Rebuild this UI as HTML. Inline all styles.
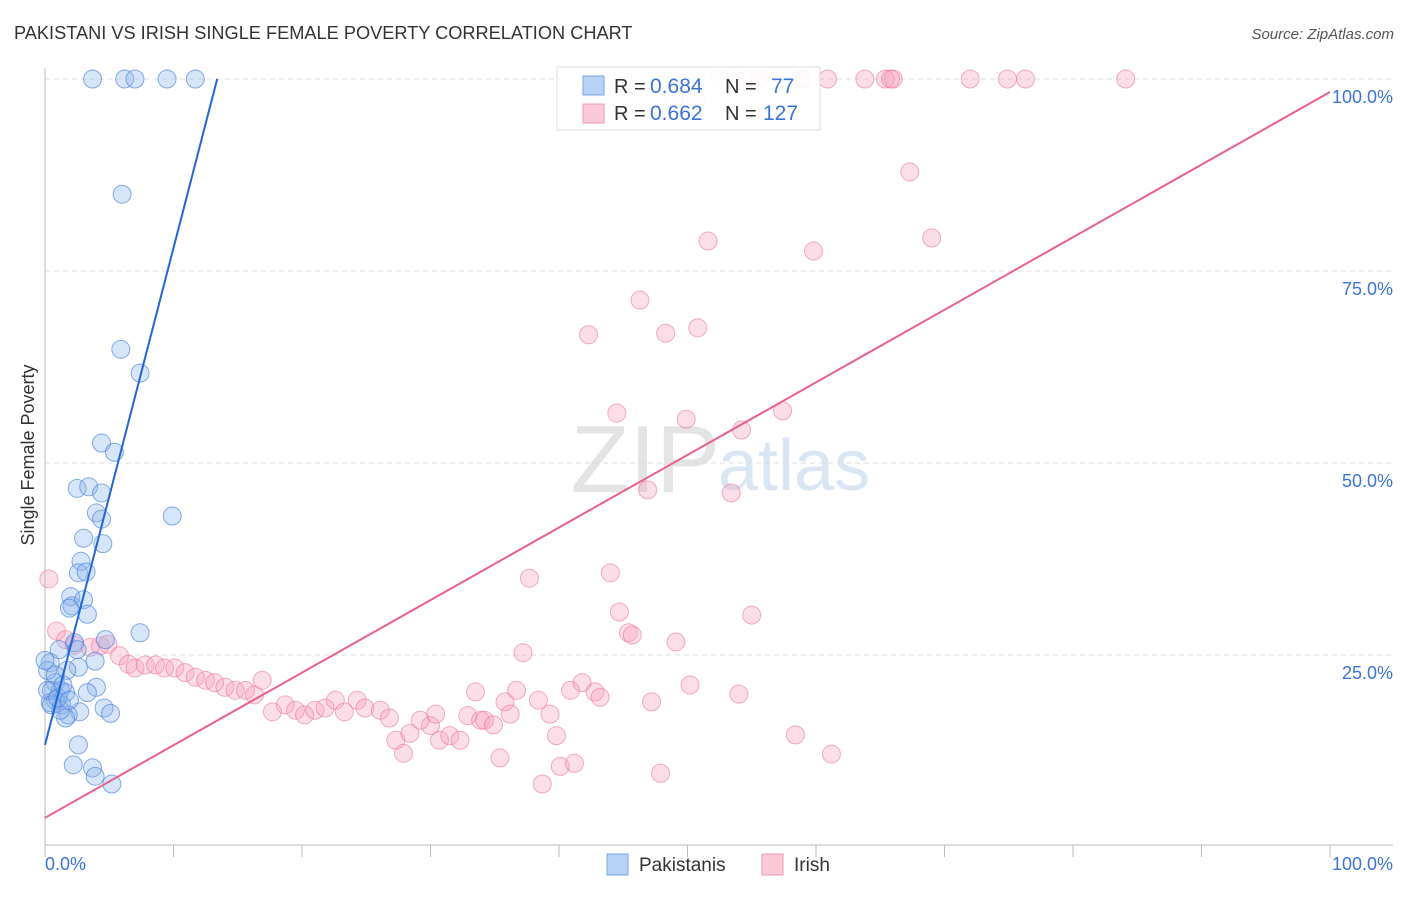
<!DOCTYPE html>
<html><head><meta charset="utf-8"><style>
body{margin:0;background:#fff;font-family:"Liberation Sans",sans-serif;}
svg text{font-family:"Liberation Sans",sans-serif;}
</style></head><body>
<svg width="1406" height="892" id="chart">
<text x="14" y="39" font-size="18.2" fill="#333">PAKISTANI VS IRISH SINGLE FEMALE POVERTY CORRELATION CHART</text>
<text x="1394" y="39" font-size="15" fill="#555" font-style="italic" text-anchor="end">Source: ZipAtlas.com</text>
<text x="720" y="492" font-size="96" fill="#e4e4e4" text-anchor="end" font-family="Liberation Serif">ZIP</text>
<text x="718" y="490" font-size="72" fill="#dbe6f4">atlas</text>
<g id="grid"></g>
<line x1="45" y1="68" x2="45" y2="845" stroke="#bbb"/>
<line x1="45" y1="845" x2="1393" y2="845" stroke="#bbb"/>
<g id="ticks"></g>
<text transform="translate(34,455) rotate(-90)" font-size="18" fill="#333" text-anchor="middle">Single Female Poverty</text>
<text x="45" y="870" font-size="18" fill="#3b74d6">0.0%</text>
<text x="1393" y="870" font-size="18" fill="#3b74d6" text-anchor="end">100.0%</text>
<g id="pts"></g>
<g id="lines"></g>
<g>
<rect x="557" y="67" width="263" height="63" fill="#fff" fill-opacity="0.9" stroke="#ddd"/>
<rect x="583" y="76" width="21" height="19" fill="#b6d2f6" stroke="#7aa6e6"/>
<rect x="583" y="104" width="21" height="19" fill="#fbc9d8" stroke="#ee9ab5"/>
<text x="614" y="93" font-size="20" fill="#333">R = <tspan x="650" font-size="21" fill="#3b74d6">0.684</tspan><tspan x="725">N = </tspan><tspan x="771" font-size="21" fill="#3b74d6">77</tspan></text>
<text x="614" y="120" font-size="20" fill="#333">R = <tspan x="650" font-size="21" fill="#3b74d6">0.662</tspan><tspan x="725">N = </tspan><tspan x="763" font-size="21" fill="#3b74d6">127</tspan></text>
</g>
<g>
<rect x="607" y="854" width="21" height="21" fill="#b6d2f6" stroke="#7aa6e6"/>
<text x="639" y="871" font-size="19" fill="#333">Pakistanis</text>
<rect x="762" y="854" width="21" height="21" fill="#fbc9d8" stroke="#ee9ab5"/>
<text x="794" y="871" font-size="19" fill="#333">Irish</text>
</g>
</svg>
<script>
const yTicks=[25,50,75,100];
const yTickLabels=["25.0%","50.0%","75.0%","100.0%"];
const xTicks=[0,10,20,30,40,50,60,70,80,90,100];
const blueX=[3.7,6.2,7.0,9.5,11.7,6.0,5.9,7.4,4.4,5.4,2.5,3.4,4.4,4.0,4.4,9.9,3.0,4.5,2.8,2.6,3.2,2.0,2.1,3.0,3.3,1.9,7.4,4.7,2.3,1.1,2.5,0.4,3.9,2.6,1.7,0.8,1.2,0.5,1.6,4.0,3.3,0.8,0.4,1.3,2.7,4.6,5.1,1.8,1.6,2.6,2.2,3.7,3.9,5.2,0.2,0.2,0.8,1.2,0.5,1.0,0,1.4,1.9];
const blueY=[100,100,100,100,100,85.0,64.8,61.7,52.6,51.4,46.7,46.9,46.1,43.5,42.7,43.1,40.2,39.5,37.2,35.7,35.8,32.6,31.4,32.2,30.3,31.1,27.9,27.0,26.6,25.7,25.7,24.0,24.2,23.4,23.0,21.4,20.4,20.4,20.1,20.8,20.1,19.1,18.8,18.5,17.6,18.1,17.4,17.2,16.8,13.3,10.7,10.3,9.2,8.2,20.4,23.0,22.4,17.8,18.5,19.4,24.3,21.1,19.1];
const pinkX=[0.3,0.9,1.6,2.3,3.5,4.3,4.9,5.8,6.5,7.0,7.8,8.6,9.3,10.1,10.9,11.7,12.5,13.2,14.0,14.8,15.6,16.3,16.9,17.7,18.7,19.5,20.2,21.0,21.8,22.6,23.3,24.3,24.9,26.1,26.8,27.3,27.9,28.4,29.2,30.0,30.4,30.7,31.5,32.3,32.9,33.5,33.9,34.2,34.9,35.4,35.8,36.2,36.7,37.2,37.7,38.4,38.7,39.3,39.8,40.1,40.9,41.2,41.8,42.3,42.8,43.2,44.0,44.5,44.7,45.4,45.7,46.3,46.9,47.2,47.9,48.3,49.1,49.9,50.2,50.8,51.6,53.4,54.0,54.2,55.0,57.4,58.4,59.8,61.2,67.3,69.0,52.5,55.6,58.8,60.9,63.8,65.4,66.0,72.0,74.9,76.3,84.1,54.7,59.1,65.8,48.9,50.7];
const pinkY=[34.9,28.1,27.0,26.3,26.0,26.2,26.4,24.9,23.8,23.3,23.7,23.7,23.3,23.3,22.7,22.1,21.7,21.4,20.8,20.4,20.4,19.8,21.7,17.6,18.5,17.8,17.2,17.8,18.1,19.1,17.6,19.1,18.1,17.8,16.8,13.9,12.2,14.8,16.5,15.8,17.3,13.9,14.5,13.9,17.1,20.2,16.5,16.5,15.9,11.6,18.9,17.3,20.4,25.3,35.0,19.1,8.2,17.3,14.5,10.5,20.4,10.9,21.4,66.7,20.2,19.5,35.7,56.5,30.6,27.9,27.6,71.2,46.5,18.9,9.6,66.9,26.7,55.7,21.1,67.6,78.9,46.1,19.9,54.3,30.2,56.8,14.6,77.6,12.1,87.9,79.3,100,100,100,100,100,100,100,100,100,100,100,100,100,100,97.5,97.2];
const blueLine=[[0,13.3],[13.4,100]];
const pinkLine=[[0,3.8],[100,98.3]];
const NS="http://www.w3.org/2000/svg";
const sx=v=>45+v*12.85, sy=v=>847-v*7.68;
function mk(tag,attrs,parent){const e=document.createElementNS(NS,tag);for(const k in attrs)e.setAttribute(k,attrs[k]);document.getElementById(parent).appendChild(e);return e;}
yTicks.forEach((t,i)=>{
 const g=mk('line',{x1:45,x2:1393,y1:sy(t),y2:sy(t),stroke:'#ddd','stroke-dasharray':'5,4'},'grid');
 
 
 const l=mk('text',{x:1393,y:sy(t)+24,'font-size':18,fill:'#3b74d6','text-anchor':'end'},'grid');
 l.textContent=yTickLabels[i];
 
 
});
xTicks.forEach(t=>{
 const e=mk('line',{x1:sx(t),x2:sx(t),y1:845,y2:857,stroke:'#bbb'},'ticks');
 
 
});
pinkX.forEach((x,i)=>{
 const c=mk('circle',{cx:sx(x),cy:sy(pinkY[i]),r:9,fill:'rgba(246,160,188,0.35)',stroke:'rgba(235,120,158,0.6)','stroke-width':1},'pts');
 
 
});
blueX.forEach((x,i)=>{
 const c=mk('circle',{cx:sx(x),cy:sy(blueY[i]),r:9,fill:'rgba(140,180,236,0.35)',stroke:'rgba(70,130,220,0.65)','stroke-width':1},'pts');
 
 
});
const bl=mk('line',{x1:sx(blueLine[0][0]),y1:sy(blueLine[0][1]),x2:sx(blueLine[1][0]),y2:sy(blueLine[1][1]),stroke:'#2266d6','stroke-width':2},'lines');


const pl=mk('line',{x1:sx(pinkLine[0][0]),y1:sy(pinkLine[0][1]),x2:sx(pinkLine[1][0]),y2:sy(pinkLine[1][1]),stroke:'#e8608c','stroke-width':2},'lines');


</script>
</body></html>
